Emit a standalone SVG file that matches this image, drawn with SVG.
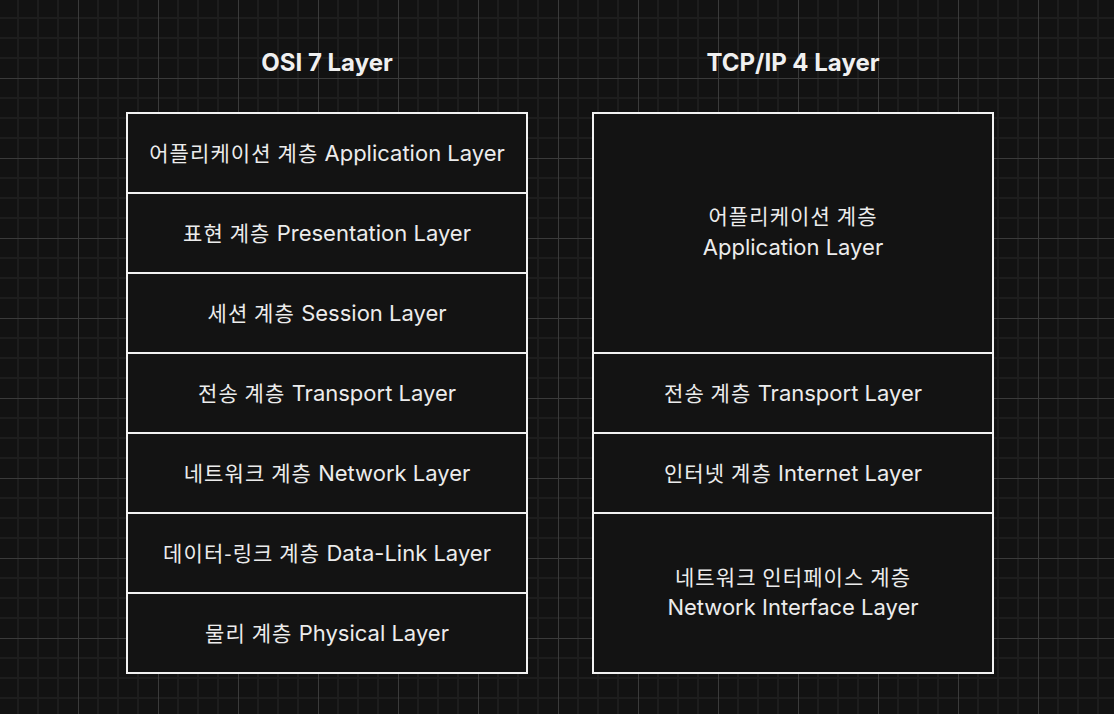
<svg xmlns="http://www.w3.org/2000/svg" width="1114" height="714" viewBox="0 0 1114 714">
<defs>
<pattern id="grid" patternUnits="userSpaceOnUse" x="-2" y="-2" width="80" height="80">
<rect x="0" y="0" width="80" height="80" fill="#121212"/>
<rect x="19" y="0" width="2" height="80" fill="#1d1d1d"/>
<rect x="39" y="0" width="2" height="80" fill="#1d1d1d"/>
<rect x="59" y="0" width="2" height="80" fill="#1d1d1d"/>
<rect x="0" y="19" width="80" height="2" fill="#1d1d1d"/>
<rect x="0" y="39" width="80" height="2" fill="#1d1d1d"/>
<rect x="0" y="59" width="80" height="2" fill="#1d1d1d"/>
<rect x="0" y="0" width="1" height="80" fill="#3a3a3a"/>
<rect x="0" y="0" width="80" height="1" fill="#3a3a3a"/>
</pattern>
<style>
.cell{fill:#131313;stroke:#f2f2f2;stroke-width:2}
.t{font-family:"Inter","Liberation Sans","Noto Sans CJK KR",sans-serif;font-size:22px;fill:#ececec;text-anchor:middle}
.ko{font-family:"Noto Sans CJK KR",sans-serif;font-size:21px;letter-spacing:1.1px}
.title{font-family:"Inter","Liberation Sans",sans-serif;font-size:24px;font-weight:700;fill:#f0f0f0;text-anchor:middle}
</style>
</defs>
<rect x="0" y="0" width="1114" height="714" fill="url(#grid)"/>
<text class="title" x="327" y="71">OSI 7 Layer</text>
<text class="title" x="793" y="71">TCP/IP 4 Layer</text>
<g id="osi">
<g id="osi-application"><rect class="cell" x="127" y="113" width="400" height="80"/><text class="t" x="327" y="161"><tspan class="ko">어플리케이션 계층</tspan> Application Layer</text></g>
<g id="osi-presentation"><rect class="cell" x="127" y="193" width="400" height="80"/><text class="t" x="327" y="241"><tspan class="ko">표현 계층</tspan> Presentation Layer</text></g>
<g id="osi-session"><rect class="cell" x="127" y="273" width="400" height="80"/><text class="t" x="327" y="321"><tspan class="ko">세션 계층</tspan> Session Layer</text></g>
<g id="osi-transport"><rect class="cell" x="127" y="353" width="400" height="80"/><text class="t" x="327" y="401"><tspan class="ko">전송 계층</tspan> Transport Layer</text></g>
<g id="osi-network"><rect class="cell" x="127" y="433" width="400" height="80"/><text class="t" x="327" y="481"><tspan class="ko">네트워크 계층</tspan> Network Layer</text></g>
<g id="osi-datalink"><rect class="cell" x="127" y="513" width="400" height="80"/><text class="t" x="327" y="561"><tspan class="ko">데이터-링크 계층</tspan> Data-Link Layer</text></g>
<g id="osi-physical"><rect class="cell" x="127" y="593" width="400" height="80"/><text class="t" x="327" y="641"><tspan class="ko">물리 계층</tspan> Physical Layer</text></g>
</g>
<g id="tcpip">
<g id="tcp-application"><rect class="cell" x="593" y="113" width="400" height="240"/><text class="t" x="793" y="224"><tspan class="ko">어플리케이션 계층</tspan></text><text class="t" x="793" y="255">Application Layer</text></g>
<g id="tcp-transport"><rect class="cell" x="593" y="353" width="400" height="80"/><text class="t" x="793" y="401"><tspan class="ko">전송 계층</tspan> Transport Layer</text></g>
<g id="tcp-internet"><rect class="cell" x="593" y="433" width="400" height="80"/><text class="t" x="793" y="481"><tspan class="ko">인터넷 계층</tspan> Internet Layer</text></g>
<g id="tcp-netif"><rect class="cell" x="593" y="513" width="400" height="160"/><text class="t" x="793" y="585"><tspan class="ko">네트워크 인터페이스 계층</tspan></text><text class="t" x="793" y="615">Network Interface Layer</text></g>
</g>
<g id="connectors"/>
</svg>
